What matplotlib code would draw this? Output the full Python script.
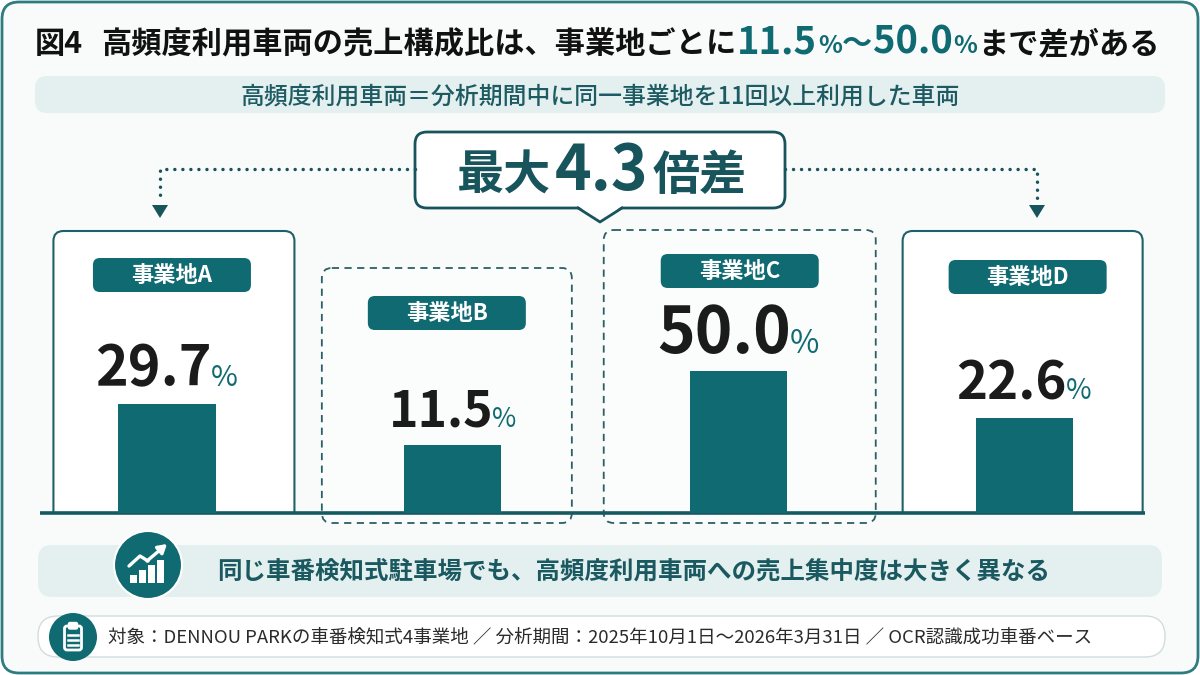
import numpy as np
import matplotlib.pyplot as plt
from matplotlib.patches import FancyBboxPatch, Rectangle, Circle, Polygon

plt.rcParams['font.family'] = ['Noto Sans CJK JP', 'DejaVu Sans']

# data
sites = ['事業地A', '事業地B', '事業地C', '事業地D']
share = [29.7, 11.5, 50.0, 22.6]
title_head = '図4'
title_main = '高頻度利用車両の売上構成比は、事業地ごとに'
title_tail = 'まで差がある'
subtitle = '高頻度利用車両＝分析期間中に同一事業地を11回以上利用した車両'
ratio_label = ['最大', '4.3', '倍差']
message = '同じ車番検知式駐車場でも、高頻度利用車両への売上集中度は大きく異なる'
source = ('対象：DENNOU PARKの車番検知式4事業地 ／ 分析期間：2025年10月1日～2026年3月31日'
          ' ／ OCR認識成功車番ベース')

# layout per panel
panel_w = [241, 250, 272, 240]
panel_dx = [7, -6, 1, -2]
panel_top = [231, 268, 230, 231]
dashed = [False, True, True, False]
pill_y = [275, 313, 271, 277]
pill_dx = [5, -6, 1, 3]
val_size = [40, 36, 46, 38]
pct_size = [21, 19, 23, 20]

TEAL = '#0f6a72'
DARK = '#17545c'
LIGHT = '#e4eff0'

fig = plt.figure(figsize=(12, 6.75), dpi=100)
ax = fig.add_axes([0, 0, 1, 1])
ax.set_xlim(0, 1200)
ax.set_ylim(675, 0)
ax.axis('off')
rend = fig.canvas.get_renderer()


def rbox(x0, y0, x1, y1, rad, **kw):
    p = FancyBboxPatch((x0, y0), x1 - x0, y1 - y0,
                       boxstyle=f'round,pad=0,rounding_size={rad}', **kw)
    ax.add_patch(p)
    return p


def wid(t):
    return t.get_window_extent(rend).width


def text_row(pieces, x0, x1, y):
    # pieces: (string, color, size, weight, gap after); fitted to span x0..x1
    ts = [ax.text(0, y, s, color=c, fontsize=fs, fontweight=w, va='baseline')
          for s, c, fs, w, g in pieces]
    gaps = [g for *_, g in pieces]
    tot = sum(wid(t) for t in ts) + sum(gaps[:-1])
    k = (x1 - x0 - sum(gaps[:-1])) / (tot - sum(gaps[:-1]))
    for t in ts:
        t.set_fontsize(t.get_fontsize() * k)
    x = x0
    for t, g in zip(ts, gaps):
        t.set_x(x)
        x += wid(t) + g
    return ts


def fit_text(x0, x1, y, s, fs, **kw):
    t = ax.text((x0 + x1) / 2, y, s, fontsize=fs, ha='center', **kw)
    t.set_fontsize(fs * (x1 - x0) / wid(t))
    return t


# frame
rbox(2, 2, 1198, 673, 17, fc='#f9fbfb', ec='#2f7c80', lw=2, zorder=0)

# title
text_row([(title_head, '#111111', 23, 'bold', 18),
          (title_main, '#111111', 23, 'bold', 1),
          ('11.5', TEAL, 29, 'bold', 1), ('%', TEAL, 19, 'bold', 0), ('～', TEAL, 23, 'bold', 0),
          ('50.0', TEAL, 29, 'bold', 1), ('%', TEAL, 19, 'bold', 1),
          (title_tail, '#111111', 23, 'bold', 0)], 35, 1160, 53)

# subtitle band
rbox(35, 76, 1165, 113, 12, fc=LIGHT, ec='none')
fit_text(240, 960, 96, subtitle, 15, color='#1d5a62', va='center', fontweight='medium')

# bars
bax = fig.add_axes([40 / 1200, (675 - 513) / 675, 1105 / 1200, 150 / 675])
bax.set_zorder(2)
bax.patch.set_alpha(0)
bax.set_yscale('function', functions=(lambda v: np.sqrt(np.clip(v, 0, None)), np.square))
bax.set_ylim(0, 55.8)
bax.set_xlim(-0.444, 3.421)
bax.axis('off')
bax.bar(range(len(share)), share, width=0.34, color=TEAL)

inv = ax.transData.inverted()
cx = [inv.transform(bax.transData.transform((i, 0)))[0] for i in range(len(share))]

for i, (name, v) in enumerate(zip(sites, share)):
    c, w, top = cx[i] + panel_dx[i], panel_w[i], panel_top[i]
    if dashed[i]:
        rbox(c - w / 2, top, c + w / 2, 523, 10, fc='#fbfdfd', ec='#2c5f65', lw=1.3,
             ls=(0, (4, 3)), zorder=1)
    else:
        p = rbox(c - w / 2, top, c + w / 2, 560, 10, fc='white', ec='#1f6168', lw=1.5, zorder=1)
        p.set_clip_path(Rectangle((0, 0), 1200, 513, transform=ax.transData))
    pc = cx[i] + pill_dx[i]
    rbox(pc - 79, pill_y[i] - 17, pc + 79, pill_y[i] + 17, 7, fc=TEAL, ec='none', zorder=2)
    ax.text(pc, pill_y[i] + 1, name, color='white', fontsize=16, fontweight='bold',
            ha='center', va='center', zorder=3)

    dy = 13
    t = bax.annotate(f'{v:.1f}', xy=(i, v), xytext=(0, dy), textcoords='offset points',
                     ha='center', va='baseline', fontsize=val_size[i], fontweight='bold',
                     color='#1b1b1b')
    q = bax.annotate('%', xy=(i, v), xytext=(0, dy), textcoords='offset points',
                     ha='left', va='baseline', fontsize=pct_size[i], color=TEAL)
    wn, wp = wid(t), wid(q)
    left = -(wn + wp) / 2
    t.xyann = ((left + wn / 2) * 0.72, dy)
    q.xyann = ((left + wn - 1) * 0.72, dy)

ax.plot([40, 1145], [513, 513], color='#155a61', lw=2.6, zorder=4, solid_capstyle='butt')

# callout
rbox(415, 132, 785, 208, 12, fc='white', ec=DARK, lw=2, zorder=3)
ax.add_patch(Polygon([(578, 206), (600, 222), (622, 206)], fc='white', ec='none', zorder=4))
ax.plot([578, 600, 622], [208, 222, 208], color=DARK, lw=2, zorder=5)
text_row([(ratio_label[0], DARK, 31, 'bold', 4), (ratio_label[1], DARK, 41, 'bold', 4),
          (ratio_label[2], DARK, 31, 'bold', 0)], 457, 747, 190)

# dotted connectors
for xs in ([415, 160, 160], [785, 1037, 1037]):
    ax.plot(xs, [169, 169, 198], color=DARK, lw=2.5, ls=(0, (0.01, 2.3)),
            dash_capstyle='round', zorder=3)
    ax.add_patch(Polygon([(xs[2] - 8, 205), (xs[2] + 8, 205), (xs[2], 218)], fc=DARK,
                         ec='none', zorder=3))

# message band
rbox(38, 545, 1162, 597, 14, fc=LIGHT, ec='none')
ax.add_patch(Circle((148, 565), 34, fc=TEAL, ec='white', lw=1.5, zorder=3))
for k, h in enumerate([8, 13, 18, 23]):
    ax.add_patch(Rectangle((130 + 9 * k, 583 - h), 6.5, h, fc='white', ec='none', zorder=4))
ax.plot([129, 140, 148], [566, 556, 561], color='white', lw=2.4, zorder=4,
        solid_capstyle='round', solid_joinstyle='round')
ax.annotate('', xy=(167, 544), xytext=(147, 561), zorder=4,
            arrowprops=dict(arrowstyle='-|>,head_length=0.5,head_width=0.3', color='white',
                            lw=2.4, shrinkA=0, shrinkB=0))
fit_text(218, 1050, 572, message, 18, color='#1a5960', va='center', fontweight='bold')

# footer
rbox(38, 616, 1165, 657, 20, fc='white', ec='#d2dcdd', lw=1)
ax.add_patch(Circle((73, 637), 24, fc=TEAL, ec='none', zorder=3))
rbox(64.5, 626, 81.5, 650, 2.5, fc='none', ec='white', lw=2, zorder=4)
rbox(68.5, 622.5, 77.5, 629, 1.5, fc='white', ec='white', lw=1, zorder=4)
for yy in (635, 640, 645):
    ax.plot([68, 78], [yy, yy], color='white', lw=1.8, zorder=4)
fit_text(108, 1092, 637, source, 12, color='#2b2b2b', va='center')

fig.savefig('out.png', dpi=100)
